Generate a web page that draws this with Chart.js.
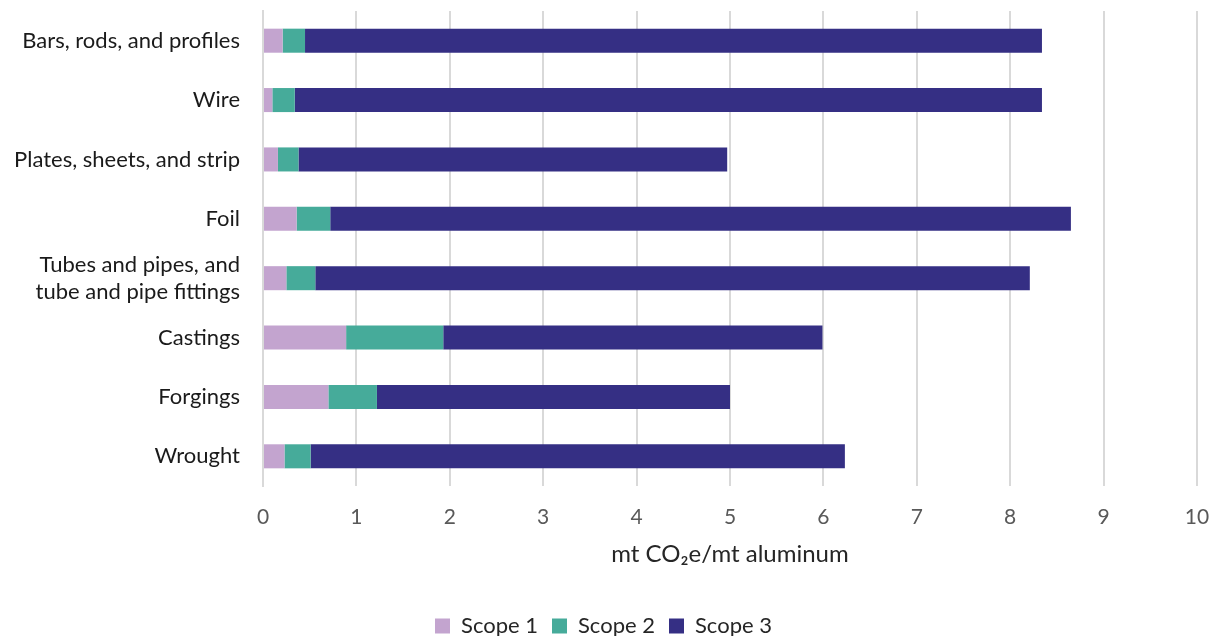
<!DOCTYPE html>
<html lang="en">
<head>
<meta charset="UTF-8">
<title>Emissions by aluminum product</title>
<style>
  body { margin: 0; background: #fff; }
  .wrap { position: relative; width: 1212px; height: 636px; }
</style>
</head>
<body>
<div class="wrap"><canvas id="chart"></canvas></div>
<script src="https://cdn.jsdelivr.net/npm/chart.js"></script>
<script>
  // data
  const categories = ['Bars, rods, and profiles', 'Wire', 'Plates, sheets, and strip', 'Foil',
    ['Tubes and pipes, and', 'tube and pipe fittings'], 'Castings', 'Forgings', 'Wrought'];
  const scope1 = [0.21, 0.10, 0.16, 0.36, 0.25, 0.89, 0.70, 0.23];
  const scope2 = [0.24, 0.24, 0.22, 0.36, 0.31, 1.04, 0.52, 0.28];
  const scope3 = [7.89, 8.00, 4.59, 7.93, 7.65, 4.06, 3.78, 5.72];
  const xTicks = [0, 1, 2, 3, 4, 5, 6, 7, 8, 9, 10];

  const font = "Lato, 'Open Sans', sans-serif";

  new Chart(document.getElementById('chart'), {
    type: 'bar',
    data: {
      labels: categories,
      datasets: [
        { label: 'Scope 1', data: scope1, backgroundColor: '#c3a4cf' },
        { label: 'Scope 2', data: scope2, backgroundColor: '#46ab9a' },
        { label: 'Scope 3', data: scope3, backgroundColor: '#352f84' }
      ]
    },
    options: {
      indexAxis: 'y',
      responsive: true,
      maintainAspectRatio: false,
      animation: false,
      barPercentage: 0.81,
      categoryPercentage: 0.5,
      layout: { padding: { top: 11, right: 15, left: 10, bottom: -11 } },
      scales: {
        x: {
          stacked: true, min: 0, max: 10,
          afterBuildTicks: s => { s.ticks = xTicks.map(v => ({ value: v })); },
          afterFit: s => { s.paddingLeft = 0; s.paddingRight = 0; s.height = 115; },
          grid: { color: '#d9d9d9', lineWidth: 2, drawTicks: false },
          border: { display: false },
          ticks: { color: '#595959', font: { family: font, size: 21 }, padding: 19 },
          title: { display: true, text: 'mt CO\u2082e/mt aluminum', color: '#262626',
                   font: { family: font, size: 24 }, padding: { top: 8, bottom: 32 } }
        },
        y: {
          stacked: true,
          grid: { display: false },
          border: { display: true, color: '#d9d9d9', width: 2 },
          ticks: { color: '#1a1a1a', font: { family: font, size: 22, lineHeight: 1.25 }, padding: 15,
                   autoSkip: false },
          afterFit: s => { s.width = 253; s.paddingTop = 0; s.paddingBottom = 0; }
        }
      },
      plugins: {
        legend: {
          position: 'bottom',
          labels: { color: '#262626', font: { family: font, size: 22 }, boxWidth: 15, boxHeight: 15,
                    padding: 14 }
        },
        tooltip: { enabled: false }
      }
    }
  });
</script>
</body>
</html>
